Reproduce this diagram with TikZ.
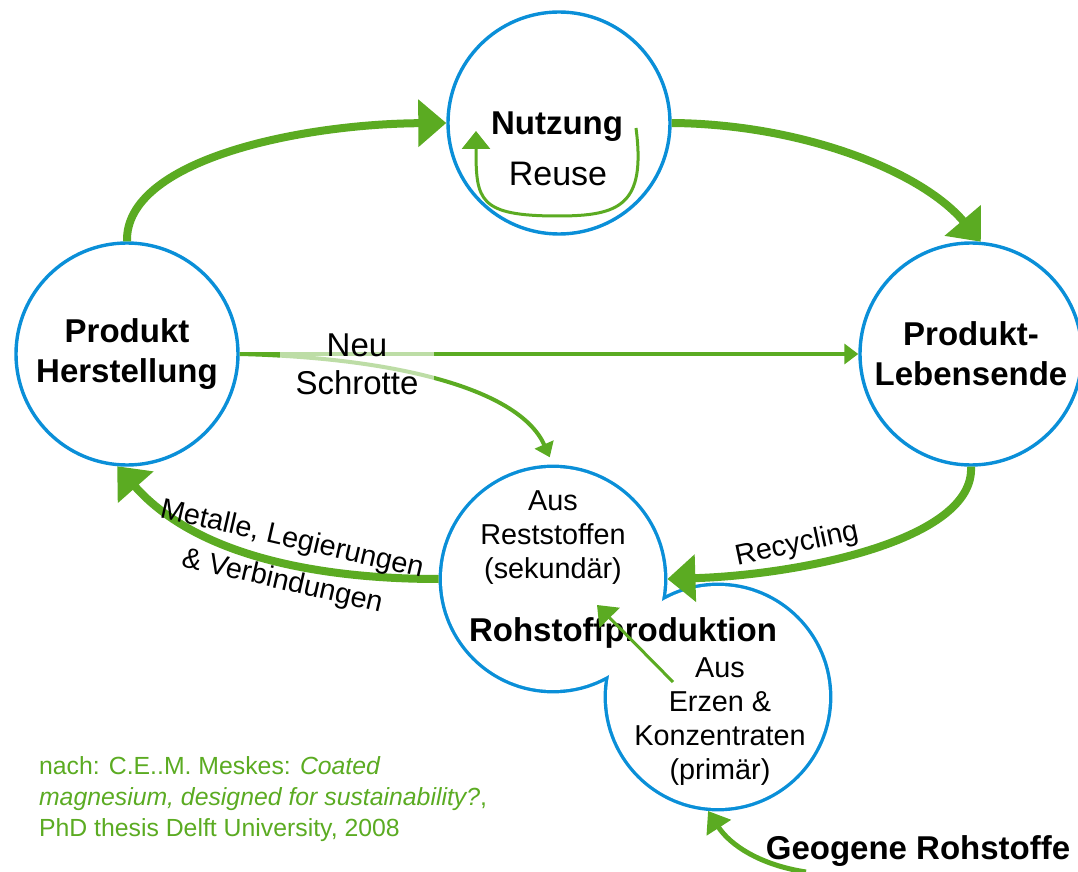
\documentclass[tikz,border=0pt]{standalone}
\usepackage{fontspec}
\setmainfont{Liberation Sans}
\usepackage{xcolor}
\usepackage{tikz}
\usetikzlibrary{arrows.meta}
\definecolor{ringblue}{HTML}{0A8FD8}
\definecolor{flowgreen}{HTML}{5BAB22}
\tikzset{
  ring/.style={circle,draw=ringblue,line width=1.7pt,fill=white,minimum size=111pt,
    inner sep=0pt,align=center,font=\bfseries\fontsize{16.5}{20}\selectfont},
  twin/.style={circle,draw=ringblue,line width=3.4pt,minimum size=111pt,inner sep=0pt},
  twinfill/.style={circle,fill=white,minimum size=111pt,inner sep=0pt},
  head/.style={font=\bfseries\fontsize{16.5}{20}\selectfont},
  tag/.style={align=center,font=\fontsize{16.5}{19}\selectfont},
  note/.style={align=center,font=\fontsize{14.4}{17}\selectfont},
  cite/.style={align=left,text=flowgreen,font=\fontsize{12.4}{15.5}\selectfont},
  bigflow/.style={-{Triangle[length=14pt,width=23pt]},draw=flowgreen,line width=4pt},
  smallflow/.style={-{Triangle[length=7pt,width=10pt]},draw=flowgreen,line width=2pt},
  loopflow/.style={-{Triangle[length=9pt,width=14pt]},draw=flowgreen,line width=1.5pt},
  geoflow/.style={-{Triangle[length=10pt,width=14pt]},draw=flowgreen,line width=2.5pt},
}
\begin{document}
\begin{tikzpicture}[x=0.5pt,y=-0.5pt]
  \useasboundingbox (0,0) rectangle (1078,872);
  \node[ring] (herst) at (127,354) {Produkt\\Herstellung};
  \node[ring] (nutz) at (559,123) {};
  \node[ring] (leb) at (971,354) {Produkt-\\Lebensende};
  \node[twin] (rohA) at (553,579) {};
  \node[twin] (rohB) at (718,697) {};
  \node[twinfill] (rohAin) at (rohA) {};
  \node[twinfill] (rohBin) at (rohB) {};

  \node[head] (nutzT) at (557,127) {Nutzung};
  \node[tag,font=\fontsize{17}{19}\selectfont] (reuseT) at (558,174) {Reuse};
  \node[note] (sekT) at (553,538) {Aus\\Reststoffen\\(sekundär)};
  \node[head] (rohT) at (623,633) {Rohstoffproduktion};
  \node[note] (primT) at (720,722) {Aus\\Erzen \&\\Konzentraten\\(primär)};
  \node[head] (geo) at (918,851) {Geogene Rohstoffe};
  \node[cite,anchor=west] (quelle) at (32,799) {nach: C.E..M. Meskes: \textit{Coated}\\
    \textit{magnesium, designed for sustainability?},\\PhD thesis Delft University, 2008};

  \coordinate (reuseS) at (636,128);
  \coordinate (reuseE) at (476,131);
  \coordinate (erzS) at (673,682);
  \coordinate (erzE) at (597,605);
  \coordinate (geoS) at (806,872);

  \draw[bigflow] (herst.north) .. controls (125,160) and (300,124) .. (nutz.west);
  \draw[bigflow] (nutz.east) .. controls (800,124) and (920,170) .. (leb.85);
  \draw[bigflow] (leb.south) .. controls (975,540) and (800,575) .. (rohA.east);
  \draw[bigflow] (rohA.west) .. controls (330,579) and (200,560) .. (herst.265);
  \draw[smallflow] (herst.east) -- (leb.west);
  \draw[smallflow,shorten >=4pt] (herst.east) .. controls (400,358) and (520,390) .. (rohA.north);
  \draw[loopflow] (reuseS) .. controls (646,205) and (620,216) .. (558,216)
    .. controls (478,216) and (476,200) .. (reuseE);
  \draw[loopflow] (erzS) -- (erzE);
  \draw[geoflow] (geoS) .. controls (760,865) and (730,845) .. (rohB.-95);

  \node[tag,fill=white,fill opacity=0.6,text opacity=1,minimum width=77pt,
    minimum height=30pt] (schrott) at (357,364) {Neu\\Schrotte};
  \node[note,rotate=12] (recT) at (797,545) {Recycling};
  \node[note,rotate=-13,font=\fontsize{14.4}{21.5}\selectfont] (metT) at (287,561)
    {Metalle, Legierungen\\\& Verbindungen};
\end{tikzpicture}
\end{document}
